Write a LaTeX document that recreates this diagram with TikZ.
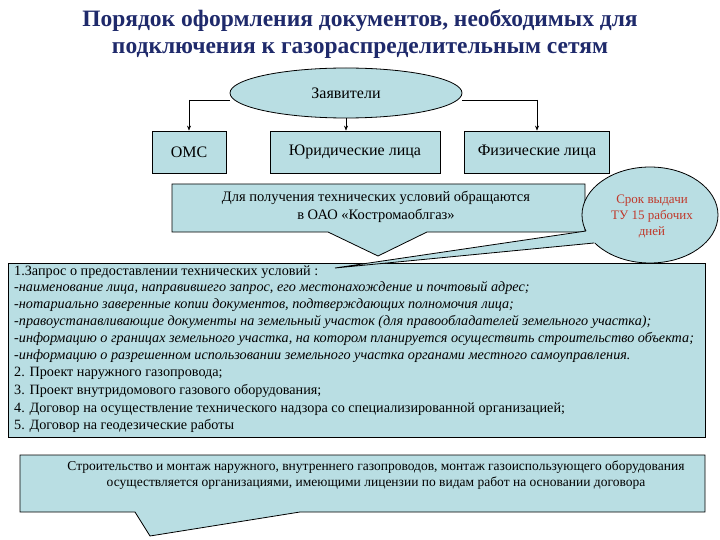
\documentclass[tikz,border=0pt]{standalone}
\usepackage{fontspec}
\setmainfont{Liberation Serif}
\usetikzlibrary{shapes.geometric,arrows.meta}
\definecolor{fillb}{HTML}{B9DEE3}
\definecolor{ttl}{HTML}{1F2A6B}
\definecolor{redt}{HTML}{C0392B}
\tikzset{
 bx/.style={draw=black,fill=fillb,line width=0.8pt},
 lbl/.style={font=\fontsize{16}{18}\selectfont,align=center},
 lst/.style={font=\fontsize{14.2}{15}\selectfont\itshape,anchor=west,inner sep=0},
 lsn/.style={font=\fontsize{14.2}{15}\selectfont,anchor=west,inner sep=0},
 arr/.style={draw=black,line width=0.6pt,-{Stealth[length=5pt,width=4pt]}}
}
\begin{document}
\begin{tikzpicture}[x=1pt,y=-1pt]
\useasboundingbox (0,0) rectangle (720,540);
\node[font=\fontsize{23.5}{27}\bfseries,text=ttl,align=center] (title) at (360,34) {Порядок оформления документов, необходимых для\\подключения к газораспределительным сетям};
\node[ellipse,bx,minimum width=232pt,minimum height=50pt,lbl] (zav) at (346,93) {Заявители};
\node[bx,minimum width=74pt,minimum height=42pt,lbl] (oms) at (189,152) {ОМС};
\node[bx,minimum width=170pt,minimum height=42pt,lbl] (ur) at (355,152) {Юридические лица};
\node[bx,minimum width=145pt,minimum height=42pt,lbl] (fiz) at (537,152) {Физические лица};
\coordinate (cl) at (189,100);
\coordinate (cr) at (537,100);
\draw[line width=0.6pt] (zav.west |- cl) -- (cl);
\draw[arr] (cl) -- (oms.north);
\draw[line width=0.6pt] (zav.east |- cr) -- (cr);
\draw[arr] (cr) -- (fiz.north);
\draw[arr] (zav.south) -- (zav.south |- ur.north);
% big list box
\draw[bx] (8,263) rectangle (705,437);
\node[lsn] (l1) at (14,272) {1.Запрос о предоставлении технических условий :};
\node[lst] (l2) at (14,288) {-наименование лица, направившего запрос, его местонахождение и почтовый адрес;};
\node[lst] (l3) at (14,305) {-нотариально заверенные копии документов, подтверждающих полномочия лица;};
\node[lst] (l4) at (14,322) {-правоустанавливающие документы на земельный участок (для правообладателей земельного участка);};
\node[lst] (l5) at (14,339) {-информацию о границах земельного участка, на котором планируется осуществить строительство объекта;};
\node[lst] (l6) at (14,356) {-информацию о разрешенном использовании земельного участка органами местного самоуправления.};
\node[lsn] (l7) at (14,373) {2. Проект наружного газопровода;};
\node[lsn] (l8) at (14,391) {3. Проект внутридомового газового оборудования;};
\node[lsn] (l9) at (14,409) {4. Договор на осуществление технического надзора со специализированной организацией;};
\node[lsn] (l10) at (14,426) {5. Договор на геодезические работы};
% callout 1
\draw[bx] (172,184) -- (585,184) -- (585,232) -- (427,232) -- (378,256) -- (328,232) -- (172,232) -- cycle;
\node[align=center,font=\fontsize{14.5}{18}\selectfont] (tu) at (376,207) {Для получения технических условий обращаются\\в ОАО «Костромаоблгаз»};
% ellipse callout
\coordinate (tip) at (335,268);
\coordinate (b1) at (586,231);
\coordinate (b2) at (594,243);
\draw[bx] (650,215) ellipse [x radius=68, y radius=48];
\fill[fillb] (tip) -- (b1) -- (650,215) -- (b2) -- cycle;
\draw[line width=0.8pt] (b1) -- (tip) -- (b2);
\node[font=\fontsize{13}{16}\selectfont,text=redt,align=center] (srok) at (652,216) {Срок выдачи\\ТУ 15 рабочих\\дней};
% bottom callout
\draw[bx] (20,455) -- (705,455) -- (705,512) -- (300,512) -- (150,536) -- (135,512) -- (20,512) -- cycle;
\node[font=\fontsize{13.5}{16}\selectfont,align=center] (str) at (376,475) {Строительство и монтаж наружного, внутреннего газопроводов, монтаж газоиспользующего оборудования\\осуществляется организациями, имеющими лицензии по видам работ на основании договора};
\end{tikzpicture}
\end{document}
